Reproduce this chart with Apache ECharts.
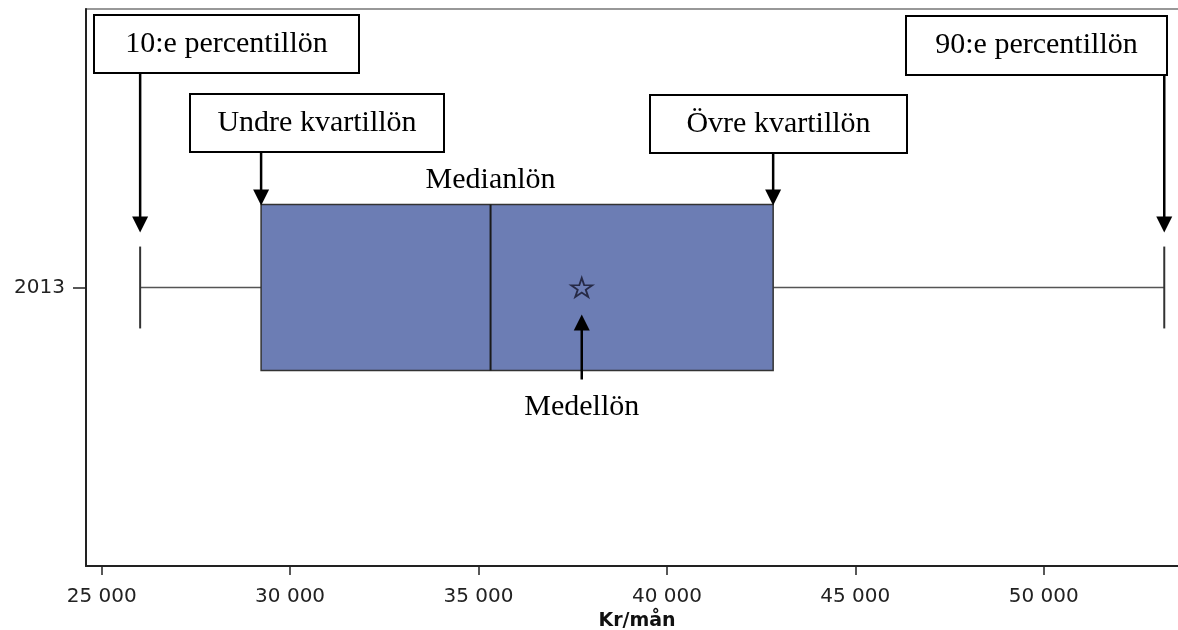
<!DOCTYPE html>
<html><head><meta charset="utf-8">
<script src="https://cdn.jsdelivr.net/npm/echarts@6/dist/echarts.min.js"></script>
<style>html,body{margin:0;padding:0;background:#fff}#c{width:1178px;height:630px}</style>
</head><body><div id="c"></div>
<script>
// ---- data ----
const categories = ['2013'];
const p10 = [26020];
const q1 = [29230];
const median = [35320];
const mean = [37740];
const q3 = [42820];
const p90 = [53200];
const xTicks = [25000, 30000, 35000, 40000, 45000, 50000];
const annotationLabels = ['10:e percentillön', 'Undre kvartillön', 'Övre kvartillön', '90:e percentillön'];
const medianLabel = 'Medianlön';
const meanLabel = 'Medellön';
const axisName = 'Kr/mån';

// ---- layout (pixels / styles only) ----
const annotationLayout = [
  {x: 94, y: 15, w: 265, h: 58, target: 'cap'},
  {x: 190, y: 94, w: 254, h: 58, target: 'box'},
  {x: 650, y: 95, w: 257, h: 58, target: 'box'},
  {x: 906, y: 16, w: 261, h: 59, target: 'cap'}
];
const BOX_FRAC = 0.298, CAP_FRAC = 0.147;
const SERIF = 'Liberation Serif';
const SANS = 'DejaVu Sans';

const annotationValues = [p10[0], q1[0], q3[0], p90[0]];

function fmt(v) { return String(v).replace(/\B(?=(\d{3})+(?!\d))/g, ' '); }

function arrowHead(x, tipY, dir) { // dir 1: pointing down, -1: pointing up
  return {type: 'polygon', shape: {points: [[x, tipY], [x - 8, tipY - dir * 16], [x + 8, tipY - dir * 16]]},
    style: {fill: '#000'}};
}

const boxData = categories.map((c, i) => [i, p10[i], q1[i], median[i], q3[i], p90[i]]);

const chart = echarts.init(document.getElementById('c'), null, {renderer: 'canvas'});
chart.setOption({
  animation: false,
  backgroundColor: '#fff',
  grid: {left: 86, right: -10, top: 9, bottom: 64, show: true, borderColor: '#777', borderWidth: 1.5,
    containLabel: false, outerBoundsMode: 'none'},
  xAxis: {
    type: 'value', min: 24583, max: 53830,
    name: axisName, nameLocation: 'middle', nameGap: 46,
    nameTextStyle: {fontFamily: SANS, fontSize: 19, fontWeight: 'bold', color: '#111'},
    axisLine: {show: true, lineStyle: {color: '#222', width: 2}},
    axisTick: {show: true, length: 9, lineStyle: {color: '#222', width: 1.5}, customValues: xTicks},
    axisLabel: {customValues: xTicks, formatter: fmt, fontFamily: SANS, fontSize: 20, color: '#222', margin: 21},
    splitLine: {show: false}
  },
  yAxis: {
    type: 'category', data: categories,
    axisLine: {show: true, lineStyle: {color: '#222', width: 2}},
    axisTick: {show: true, length: 13, alignWithLabel: true, lineStyle: {color: '#222', width: 1.5}},
    axisLabel: {fontFamily: SANS, fontSize: 20, color: '#222', margin: 21},
    splitLine: {show: false}
  },
  series: [
    {
      type: 'custom', name: 'box', clip: false, z: 2,
      encode: {x: [1, 2, 3, 4, 5], y: 0},
      data: boxData,
      renderItem: function (params, api) {
        const c = api.value(0);
        const band = api.size([0, 1])[1];
        const cy = api.coord([0, c])[1];
        const X = k => api.coord([api.value(k), c])[0];
        const x10 = X(1), xq1 = X(2), xm = X(3), xq3 = X(4), x90 = X(5);
        const bh = band * BOX_FRAC, ch = band * CAP_FRAC;
        const wl = {stroke: '#555', lineWidth: 1.5};
        return {type: 'group', children: [
          {type: 'line', shape: {x1: x10, y1: cy, x2: xq1, y2: cy}, style: wl},
          {type: 'line', shape: {x1: xq3, y1: cy, x2: x90, y2: cy}, style: wl},
          {type: 'line', shape: {x1: x10, y1: cy - ch / 2, x2: x10, y2: cy + ch / 2}, style: {stroke: '#333', lineWidth: 2}},
          {type: 'line', shape: {x1: x90, y1: cy - ch / 2, x2: x90, y2: cy + ch / 2}, style: {stroke: '#333', lineWidth: 2}},
          {type: 'rect', shape: {x: xq1, y: cy - bh / 2, width: xq3 - xq1, height: bh},
            style: {fill: '#6c7db4', stroke: '#333', lineWidth: 1.5}},
          {type: 'line', shape: {x1: xm, y1: cy - bh / 2, x2: xm, y2: cy + bh / 2}, style: {stroke: '#1a1a1a', lineWidth: 2}},
          {type: 'text', style: {text: medianLabel, x: xm, y: cy - bh / 2 - 24, align: 'center', verticalAlign: 'middle',
            font: '30px "' + SERIF + '"', fill: '#000'}}
        ]};
      }
    },
    {
      type: 'scatter', name: 'mean', z: 3,
      data: categories.map((c, i) => [mean[i], i]),
      symbol: 'path://M50 0 L61.2 34.5 L97.6 34.5 L68.2 55.9 L79.4 90.5 L50 69.1 L20.6 90.5 L31.8 55.9 L2.4 34.5 L38.8 34.5 Z',
      symbolSize: [21, 19],
      itemStyle: {color: 'rgba(0,0,0,0)', borderColor: '#15152a', borderWidth: 1.8}
    },
    {
      type: 'custom', name: 'meanNote', clip: false, z: 4,
      encode: {x: 0, y: 1},
      data: categories.map((c, i) => [mean[i], i]),
      renderItem: function (params, api) {
        const p = api.coord([api.value(0), api.value(1)]);
        const x = p[0], cy = p[1];
        return {type: 'group', children: [
          {type: 'line', shape: {x1: x, y1: cy + 40, x2: x, y2: cy + 92}, style: {stroke: '#000', lineWidth: 2.5}},
          arrowHead(x, cy + 27, -1),
          {type: 'text', style: {text: meanLabel, x: x, y: cy + 120, align: 'center', verticalAlign: 'middle',
            font: '30px "' + SERIF + '"', fill: '#000'}}
        ]};
      }
    },
    {
      type: 'custom', name: 'notes', clip: false, z: 5,
      encode: {x: 0},
      data: annotationValues.map(v => [v, 0]),
      renderItem: function (params, api) {
        const L = annotationLayout[params.dataIndex];
        const band = api.size([0, 1])[1];
        const p = api.coord([api.value(0), api.value(1)]);
        const x = p[0], cy = p[1];
        const tip = L.target === 'cap' ? cy - band * CAP_FRAC / 2 - 14 : cy - band * BOX_FRAC / 2 + 1;
        return {type: 'group', children: [
          {type: 'rect', shape: {x: L.x, y: L.y, width: L.w, height: L.h}, style: {fill: '#fff', stroke: '#000', lineWidth: 2}},
          {type: 'text', style: {text: annotationLabels[params.dataIndex], x: L.x + L.w / 2, y: L.y + L.h / 2,
            align: 'center', verticalAlign: 'middle', font: '30px "' + SERIF + '"', fill: '#000'}},
          {type: 'line', shape: {x1: x, y1: L.y + L.h, x2: x, y2: tip - 10}, style: {stroke: '#000', lineWidth: 2.5}},
          arrowHead(x, tip, 1)
        ]};
      }
    }
  ]
});
</script></body></html>
